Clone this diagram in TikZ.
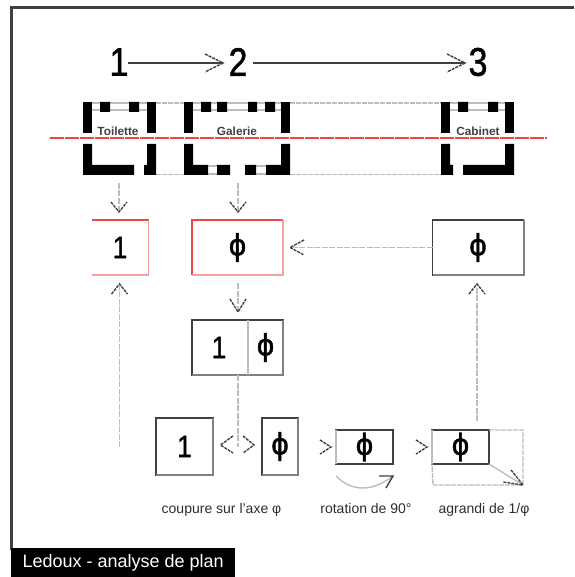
\documentclass[tikz,border=0pt]{standalone}
\usepackage{fontspec}
\setmainfont{Liberation Sans}
\newfontfamily\heavy[FakeBold=1.2]{Liberation Sans}
\definecolor{dk}{HTML}{404040}
\definecolor{gr}{HTML}{BDBDBD}
\definecolor{md}{HTML}{808080}
\definecolor{rd}{HTML}{EE4444}
\definecolor{pk}{HTML}{F8A0A0}
\tikzset{
 wall/.style={fill=black,draw=none},
 glaze/.style={draw=gr,line width=1.4pt},
 link/.style={draw=gr,line width=1.4pt,dash pattern=on 6pt off 1.5pt},
 head/.style={draw=dk,line width=1.4pt,dash pattern=on 3pt off 1pt},
 num/.style={font=\heavy\fontsize{40}{40}\selectfont,inner sep=0pt},
 sym/.style={font=\heavy\fontsize{31}{31}\selectfont,inner sep=0pt},
 room/.style={font=\bfseries\fontsize{11.8}{12}\selectfont,text=dk,inner sep=0pt},
 caption/.style={font=\fontsize{14}{14}\selectfont,text=dk!70!black,inner sep=0pt,anchor=base},
 panel/.style={inner sep=0pt,outer sep=0pt},
 frame/.style={panel,draw=dk,line width=1.8pt},
}
\newcommand{\narrowed}[1]{\scalebox{.85}[1]{#1}}
\newcommand{\chev}[3]{\draw[head] (#1-#3,#2-9) -- (#1,#2) -- (#1-#3,#2+9);}
\newcommand{\edgeshade}[1]{\draw[md,line width=2pt] (#1.south west) -- (#1.south east) -- (#1.north east);}
\begin{document}
\begin{tikzpicture}[x=1pt,y=-1pt]
\useasboundingbox (0,0) rectangle (574,577);
\draw[dk,line width=3pt] (574,7.5) -- (11.5,7.5) -- (11.5,550);
\node[fill=black,text=white,minimum width=224pt,minimum height=29pt,inner sep=0pt,anchor=north west,font=\fontsize{18}{18}\selectfont] (title) at (11,548) {Ledoux - analyse de plan};
% numbers
\node[num] (n1) at (119,62) {\narrowed{1}};
\node[num] (n2) at (238,62) {\narrowed{2}};
\node[num] (n3) at (478,62) {\narrowed{3}};
\coordinate (a1s) at (128,63); \coordinate (a1e) at (223,63);
\coordinate (a2s) at (253,63); \coordinate (a2e) at (465,63);
\draw[dk,line width=1.4pt] (a1s) -- (a1e);
\draw[dk,line width=1.4pt] (a2s) -- (a2e);
\chev{223}{63}{18}
\chev{465}{63}{18}
% links between plans
\draw[gr,line width=1.4pt,dash pattern=on 5pt off 1pt] (156,103) -- (184,103) (156,174.5) -- (184,174.5) (290,103) -- (441,103) (290,174.5) -- (441,174.5);
% glazing
\draw[glaze] (92,103) -- (147,103) (92,110) -- (147,110);
\draw[glaze] (193,103) -- (281,103) (193,110) -- (281,110);
\draw[glaze] (450,103) -- (505,103) (450,110) -- (505,110);
\draw[glaze] (208,166) -- (217,166) (208,174) -- (217,174) (256,166) -- (266,166) (256,174) -- (266,174);
% Toilette walls
\fill[wall] (83,102) rectangle (92,133);
\fill[wall] (83,144) rectangle (92,175) (83,165) rectangle (134,175);
\fill[wall] (147,102) rectangle (156,133);
\fill[wall] (147,144) rectangle (156,175) (144,165) rectangle (156,175);
\fill[wall] (100,102) rectangle (110,112) (129,102) rectangle (139,112);
% Galerie walls
\fill[wall] (184,102) rectangle (193,133);
\fill[wall] (184,144) rectangle (193,175) (184,165) rectangle (208,175);
\fill[wall] (217,165) rectangle (230,175) (245,165) rectangle (256,175);
\fill[wall] (281,102) rectangle (290,133);
\fill[wall] (281,144) rectangle (290,175) (266,165) rectangle (290,175);
\fill[wall] (201,102) rectangle (211,112) (217,102) rectangle (227,112) (248,102) rectangle (257,112) (265,102) rectangle (275,112);
% Cabinet walls
\fill[wall] (441,102) rectangle (450,133);
\fill[wall] (441,144) rectangle (450,175) (441,165) rectangle (453,175);
\fill[wall] (505,102) rectangle (514,133);
\fill[wall] (505,144) rectangle (514,175) (463,165) rectangle (514,175);
\fill[wall] (458,102) rectangle (468,112) (488,102) rectangle (498,112);
% room names
\node[room] (toilette) at (118,131.5) {Toilette};
\node[room] (galerie) at (237,131.5) {Galerie};
\node[room] (cabinet) at (478,131.5) {Cabinet};
% axis
\draw[rd,line width=2pt,dash pattern=on 14pt off 1pt] (50,138.5) -- (547,138.5);
% panels row 1
\node[panel,minimum width=57pt,minimum height=55pt] (b1) at (120,247.5) {};
\node[sym] at (b1) {\narrowed{1}};
\draw[rd,line width=1.6pt] (b1.north west) -- (b1.north east);
\draw[pk,line width=1.8pt] (b1.south west) -- (b1.south east) -- (b1.north east);
\node[panel,minimum width=91pt,minimum height=55pt] (bphi) at (237.5,247.5) {};
\node[sym] at (bphi) {ϕ};
\draw[rd,line width=1.6pt] (bphi.south west) -- (bphi.north west) -- (bphi.north east);
\draw[pk,line width=1.8pt] (bphi.south west) -- (bphi.south east) -- (bphi.north east);
\node[frame,minimum width=91pt,minimum height=55pt] (bcab) at (478,247.5) {};
\node[sym] at (bcab) {ϕ};
\edgeshade{bcab}
% split
\node[frame,minimum width=91pt,minimum height=55pt] (split) at (237.5,347.5) {};
\edgeshade{split}
\draw[gr,line width=1.4pt] (248,320) -- (248,375);
\node[sym] at (219,347.5) {\narrowed{1}};
\node[sym] at (265.5,347.5) {ϕ};
% lower row
\node[frame,minimum width=57pt,minimum height=57pt] (s1) at (184.5,446.5) {};
\edgeshade{s1}
\node[sym] at (s1) {\narrowed{1}};
\node[frame,minimum width=36pt,minimum height=57pt] (s2) at (280,446.5) {};
\edgeshade{s2}
\node[sym] at (s2) {ϕ};
\node[frame,minimum width=57pt,minimum height=34pt] (s3) at (364.5,447) {};
\node[sym] at (s3) {ϕ};
\draw[dk,line width=2.4pt] (s3.south west) -- (s3.south east);
\draw[gr,line width=2pt] (s3.south west) -- (s3.north west);
\node[frame,minimum width=57pt,minimum height=34pt] (s4) at (460.5,447) {};
\node[sym] at (s4) {ϕ};
\draw[dk,line width=2.4pt] (s4.south west) -- (s4.south east);
\draw[gr,line width=2pt] (s4.south west) -- (s4.north west);
\coordinate (bigc) at (523,485);
\draw[link,dash pattern=on 5pt off 1pt] (s4.north east) -- (523,430) -- (bigc) -- (433,485) -- (s4.south west);
% connectors
\coordinate (t1) at (119,183); \coordinate (t2) at (119,212);
\coordinate (g1) at (238,183); \coordinate (g2) at (238,212);
\draw[link] (t1) -- (t2);
\draw[head] (111,202) -- (119,212) -- (127,202);
\draw[link] (g1) -- (g2);
\draw[head] (230,202) -- (238,212) -- (246,202);
\coordinate (h1) at (290,247.5);
\draw[link] (bcab.west) -- (h1);
\draw[head] (304,240) -- (h1) -- (304,255);
\coordinate (v1) at (238,283); \coordinate (v2) at (238,312);
\draw[link] (v1) -- (v2);
\draw[head] (230,299) -- (v2) -- (246,299);
\coordinate (v3) at (238,447);
\draw[link] (split.south) ++(0.5,0) -- (v3);
\coordinate (u1) at (119.5,447); \coordinate (u2) at (119.5,284);
\draw[link] (u1) -- (u2);
\draw[head] (111.5,294) -- (u2) -- (127.5,294);
\coordinate (w1) at (477,421); \coordinate (w2) at (477,284);
\draw[link] (w1) -- (w2);
\draw[head] (469,294) -- (w2) -- (485,294);
% chevrons lower row
\draw[head] (233,436) -- (220.5,445) -- (233,453);
\draw[head] (243,436) -- (254,445) -- (243,453);
\draw[head] (320,440) -- (331,447) -- (320,454);
\draw[head] (416,440) -- (427,447) -- (416,454);
% rotation arc
\coordinate (r1) at (336,476); \coordinate (r2) at (393,476);
\draw[gr,line width=1.4pt] (r1) .. controls (352,492) and (372,492) .. (r2);
\draw[dk,line width=1.4pt] (379,476) -- (r2) -- (386,488);
% enlargement arrow
\draw[gr,line width=1.4pt] (s4.south east) -- (bigc);
\draw[head] (511,470) -- (bigc) -- (503,482);
% captions
\node[caption] (c1) at (221.5,513) {coupure sur l'axe φ};
\node[caption] (c2) at (366,513) {rotation de 90°};
\node[caption] (c3) at (484,513) {agrandi de 1/φ};
\end{tikzpicture}
\end{document}
